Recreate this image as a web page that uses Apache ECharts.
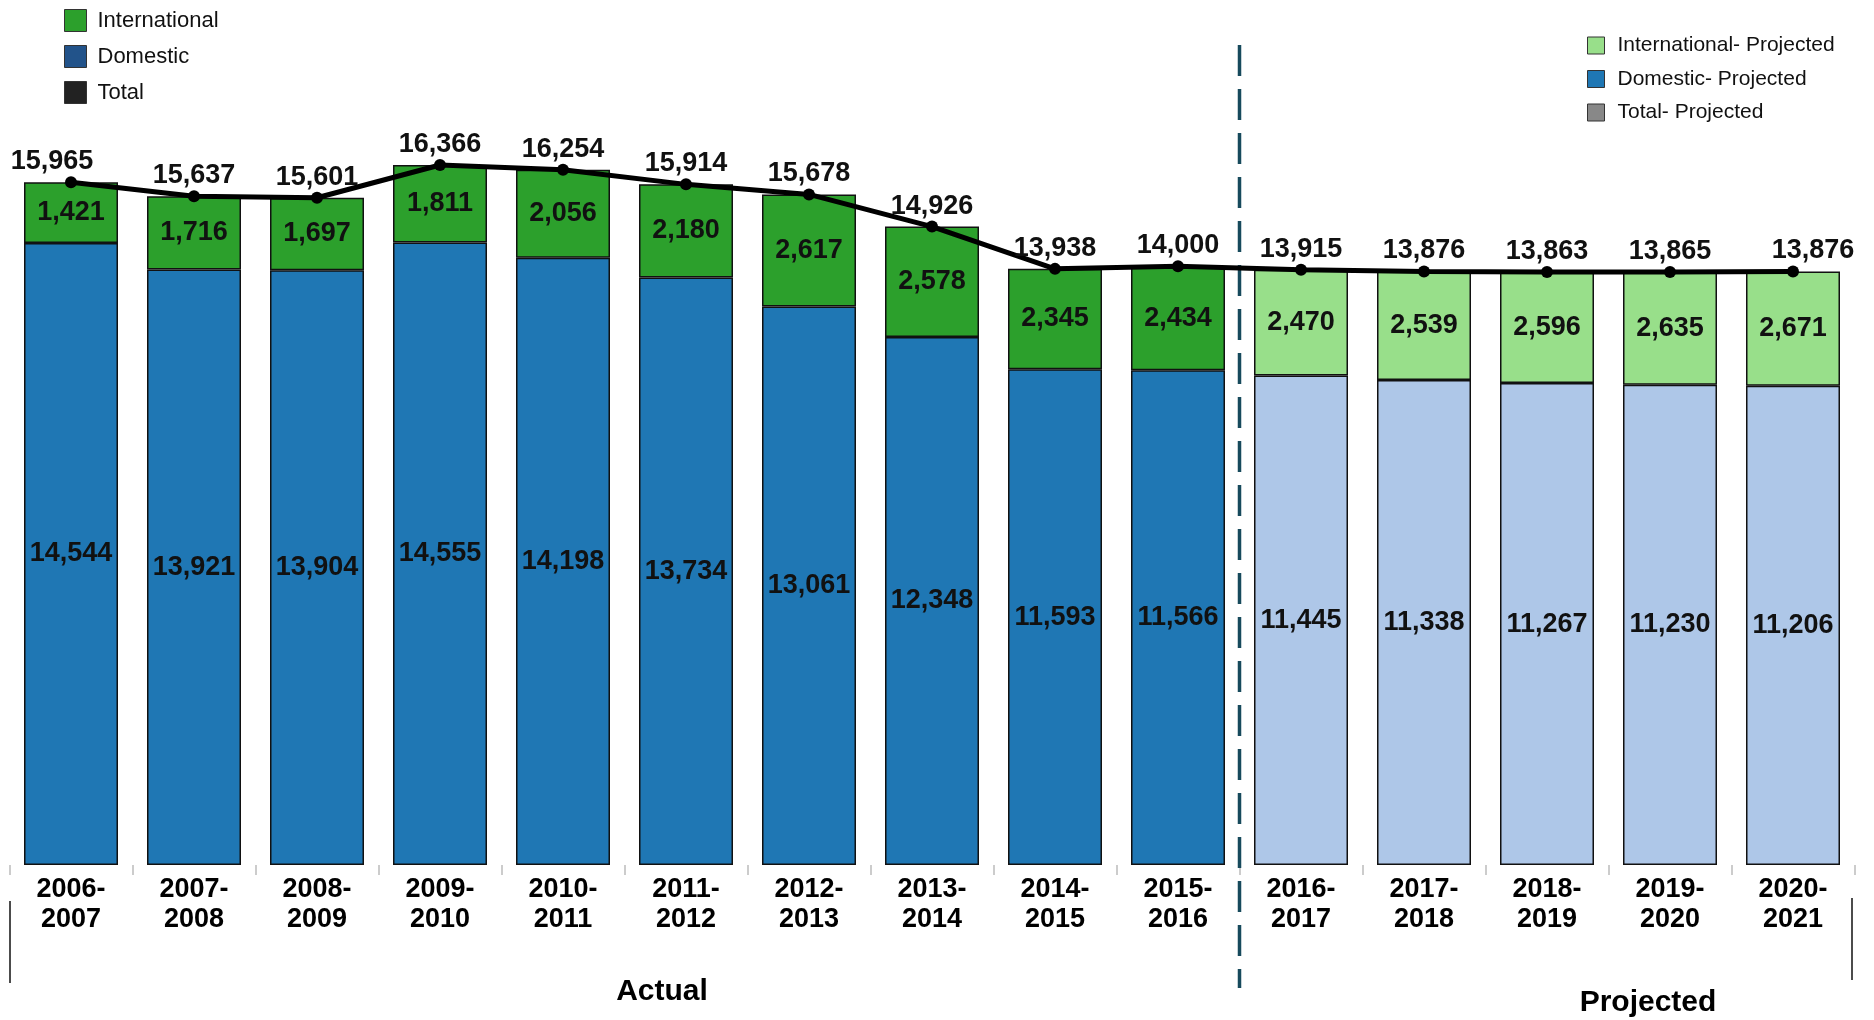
<!DOCTYPE html>
<html>
<head>
<meta charset="utf-8">
<script src="https://cdn.jsdelivr.net/npm/echarts@6/dist/echarts.min.js"></script>
<style>
  html, body { margin: 0; padding: 0; background: #ffffff; }
  #chart { width: 1874px; height: 1020px; }
</style>
</head>
<body>
<div id="chart"></div>
<script>
// Academic years on the category axis
const years = [
  '2006-\n2007', '2007-\n2008', '2008-\n2009', '2009-\n2010', '2010-\n2011',
  '2011-\n2012', '2012-\n2013', '2013-\n2014', '2014-\n2015', '2015-\n2016',
  '2016-\n2017', '2017-\n2018', '2018-\n2019', '2019-\n2020', '2020-\n2021'
];

// Actual enrolment (2006-2016)
const domestic = [14544, 13921, 13904, 14555, 14198, 13734, 13061, 12348, 11593, 11566, '-', '-', '-', '-', '-'];
const international = [1421, 1716, 1697, 1811, 2056, 2180, 2617, 2578, 2345, 2434, '-', '-', '-', '-', '-'];

// Projected enrolment (2016-2021)
const domesticProjected = ['-', '-', '-', '-', '-', '-', '-', '-', '-', '-', 11445, 11338, 11267, 11230, 11206];
const internationalProjected = ['-', '-', '-', '-', '-', '-', '-', '-', '-', '-', 2470, 2539, 2596, 2635, 2671];

// Overall totals across both periods
const totals = [15965, 15637, 15601, 16366, 16254, 15914, 15678, 14926, 13938, 14000, 13915, 13876, 13863, 13865, 13876];

const FONT = "'Liberation Sans', Arial, Helvetica, sans-serif";
const fmt = v => Number(v).toLocaleString('en-US');

const chart = echarts.init(document.getElementById('chart'), null, { renderer: 'canvas' });

const barLabel = {
  show: true,
  position: 'inside',
  fontFamily: FONT,
  fontSize: 27,
  fontWeight: 'bold',
  color: '#111',
  formatter: p => fmt(p.value)
};
const barBorder = { borderColor: '#111', borderWidth: 1.5 };

const totalData = totals.map((v, i) => {
  if (i === 0) return { value: v, label: { offset: [-19, 0] } };
  if (i === totals.length - 1) return { value: v, label: { offset: [20, 0] } };
  return v;
});

chart.setOption({
  animation: false,
  backgroundColor: '#ffffff',
  grid: { left: 9.5, right: 19.5, top: 9.6, bottom: 155, containLabel: false },
  legend: [
    {
      data: [
        { name: 'International', itemStyle: { color: '#2ca02c' } },
        { name: 'Domestic', itemStyle: { color: '#22538a' } },
        { name: 'Total', itemStyle: { color: '#222222' } }
      ],
      orient: 'vertical',
      left: 64,
      top: 9,
      padding: 0,
      icon: 'rect',
      itemWidth: 22,
      itemHeight: 22,
      itemGap: 13,
      selectedMode: false,
      itemStyle: { borderColor: '#333', borderWidth: 1 },
      textStyle: { fontFamily: FONT, fontSize: 22, color: '#111', padding: [0, 0, 0, 6] }
    },
    {
      data: [
        { name: 'International- Projected', itemStyle: { color: '#98df8a' } },
        { name: 'Domestic- Projected', itemStyle: { color: '#1f77b4' } },
        { name: 'Total- Projected', itemStyle: { color: '#888888' } }
      ],
      orient: 'vertical',
      left: 1587,
      top: 35,
      padding: 0,
      icon: 'rect',
      itemWidth: 17,
      itemHeight: 17,
      itemGap: 12.5,
      selectedMode: false,
      itemStyle: { borderColor: '#333', borderWidth: 1 },
      textStyle: { fontFamily: FONT, fontSize: 21, color: '#111', padding: [0, 0, 0, 8] }
    }
  ],
  xAxis: {
    type: 'category',
    data: years,
    axisLine: { show: false },
    axisTick: { show: true, length: 10, alignWithLabel: false, interval: 0, lineStyle: { color: '#cccccc', width: 2 } },
    axisLabel: {
      interval: 0,
      margin: 10,
      fontFamily: FONT,
      fontSize: 27,
      fontWeight: 'bold',
      lineHeight: 30,
      color: '#000'
    }
  },
  yAxis: {
    type: 'value',
    min: 0,
    max: 20000,
    show: false
  },
  series: [
    {
      name: 'Domestic', type: 'bar', stack: 'enrol', data: domestic, barWidth: 94,
      itemStyle: Object.assign({ color: '#1f77b4' }, barBorder), label: barLabel
    },
    {
      name: 'Domestic- Projected', type: 'bar', stack: 'enrol', data: domesticProjected, barWidth: 94,
      itemStyle: Object.assign({ color: '#aec7e8' }, barBorder), label: barLabel
    },
    {
      name: 'International', type: 'bar', stack: 'enrol', data: international, barWidth: 94,
      itemStyle: Object.assign({ color: '#2ca02c' }, barBorder), label: barLabel
    },
    {
      name: 'International- Projected', type: 'bar', stack: 'enrol', data: internationalProjected, barWidth: 94,
      itemStyle: Object.assign({ color: '#98df8a' }, barBorder), label: barLabel
    },
    {
      name: 'Total', type: 'line', data: totalData, z: 10,
      color: '#000',
      symbol: 'circle', symbolSize: 12,
      lineStyle: { color: '#000', width: 5 },
      itemStyle: { color: '#000' },
      label: {
        show: true, position: 'top', distance: 1,
        fontFamily: FONT, fontSize: 27, fontWeight: 'bold', color: '#111',
        formatter: p => fmt(p.value)
      }
    },
    {
      name: 'Total- Projected', type: 'line', data: [], color: '#888888'
    }
  ]
});

// Divider between the actual and projected periods, placed on the category boundary
const x9 = chart.convertToPixel({ xAxisIndex: 0 }, 9);
const x10 = chart.convertToPixel({ xAxisIndex: 0 }, 10);
const divX = (x9 + x10) / 2;

chart.setOption({
  graphic: [
    {
      type: 'line', z: 5,
      shape: { x1: divX, y1: 45, x2: divX, y2: 988 },
      style: { stroke: '#174a5c', lineWidth: 3.5, lineDash: [31, 13] }
    },
    {
      type: 'line', z: 5,
      shape: { x1: 10, y1: 901, x2: 10, y2: 983 },
      style: { stroke: '#111', lineWidth: 1.5 }
    },
    {
      type: 'line', z: 5,
      shape: { x1: 1852, y1: 898, x2: 1852, y2: 980 },
      style: { stroke: '#111', lineWidth: 1.5 }
    },
    {
      type: 'text', z: 5,
      style: {
        x: 662, y: 992, text: 'Actual', align: 'center', verticalAlign: 'middle',
        font: "bold 30px 'Liberation Sans', Arial, sans-serif", fill: '#000'
      }
    },
    {
      type: 'text', z: 5,
      style: {
        x: 1648, y: 1003, text: 'Projected', align: 'center', verticalAlign: 'middle',
        font: "bold 30px 'Liberation Sans', Arial, sans-serif", fill: '#000'
      }
    }
  ]
});
</script>
</body>
</html>
